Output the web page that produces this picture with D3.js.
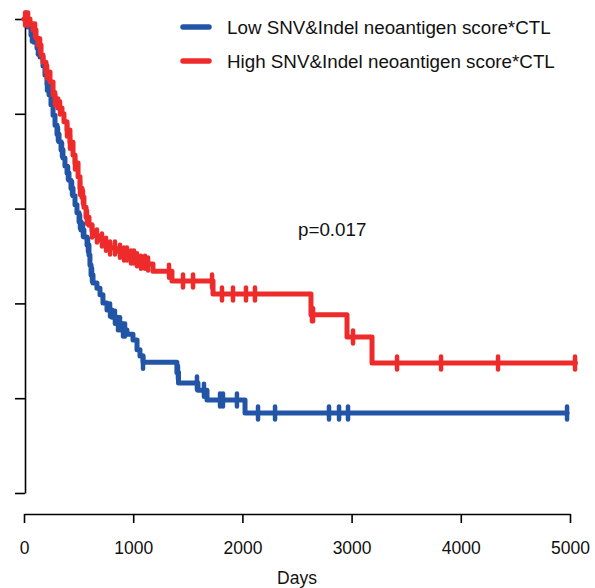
<!DOCTYPE html>
<html><head><meta charset="utf-8">
<script src="https://cdn.jsdelivr.net/npm/d3@7"></script>
<style>body{margin:0;background:#fff}</style>
</head><body><svg id="c" width="595" height="588"></svg>
<script>
const groups = ["Low SNV&Indel neoantigen score*CTL","High SNV&Indel neoantigen score*CTL"];
const colors = ["#2355a6","#ee2b2b"];
const xTicks = [0,1000,2000,3000,4000,5000];
const yTicks = [0,0.2,0.4,0.6,0.8,1.0];
const pText = "p=0.017";

// step points (time, survival after step)
const lowTimes = [0,37,64,92,119,147,174,192,211,229,247,266,284,302,321,339,357,375,394,412,430,449,467,485,504,522,549,577,595,604,614,632,668,696,723,760,806,852,897,943,998,1035,1062,1090,1400,1415,1593,1676,2024,4973];
const lowSurv  = [1,0.983,0.966,0.951,0.939,0.92,0.901,0.882,0.863,0.84,0.819,0.797,0.776,0.757,0.741,0.724,0.707,0.69,0.675,0.66,0.643,0.627,0.608,0.591,0.572,0.555,0.54,0.523,0.502,0.481,0.46,0.443,0.432,0.418,0.401,0.386,0.371,0.357,0.344,0.335,0.323,0.302,0.289,0.276,0.254,0.232,0.217,0.196,0.169,0.169];
const lowCensor = [20,73,128,211,220,311,348,403,440,513,540,586,623,788,833,861,879,907,925,1090,1410,1584,1648,1795,1822,1950,2143,2299,2793,2885,2967,4973];

const highTimes = [0,55,82,110,128,156,174,201,238,266,284,311,348,366,394,421,449,467,495,513,531,549,568,595,623,659,696,742,788,842,897,952,1016,1071,1126,1181,1355,1731,2628,2958,3187,5050];
const highSurv  = [1,0.99,0.977,0.96,0.945,0.924,0.909,0.888,0.867,0.84,0.832,0.812,0.8,0.783,0.766,0.74,0.713,0.696,0.667,0.643,0.624,0.603,0.582,0.565,0.553,0.542,0.534,0.525,0.517,0.51,0.504,0.498,0.492,0.487,0.483,0.468,0.447,0.42,0.376,0.329,0.274,0.274];
const highCensor = [10,37,101,147,211,284,330,394,421,467,513,540,577,623,668,714,751,788,833,879,916,943,980,1007,1035,1071,1108,1136,1328,1456,1548,1722,1813,1914,2033,2115,2637,2647,3013,3416,3819,4341,5046];

const FONT = "Liberation Sans, Arial, sans-serif";
const svg = d3.select("#c");
const x = d3.scaleLinear().domain([0,5000]).range([24,570]);
const y = d3.scaleLinear().domain([0,1]).range([493,19]);

// y axis
const ya = svg.append("g").attr("transform","translate(25,0)")
  .call(d3.axisLeft(y).tickValues(yTicks).tickFormat("").tickSize(10).tickSizeOuter(0));
ya.select(".domain").attr("stroke","#000").attr("stroke-width",1.6);
ya.selectAll(".tick line").attr("stroke","#000").attr("stroke-width",1.6);

// x axis
const xa = svg.append("g").attr("transform","translate(0,514)")
  .call(d3.axisBottom(x).tickValues(xTicks).tickFormat(d3.format("d")).tickSize(9).tickSizeOuter(0));
xa.select(".domain").attr("stroke","#000").attr("stroke-width",1.6);
xa.selectAll(".tick line").attr("stroke","#000").attr("stroke-width",1.6);
xa.selectAll(".tick text").attr("font-family",FONT)
  .attr("font-size",17.5).attr("fill","#111").attr("y",0).attr("dy",0)
  .attr("transform","translate(0,40)");

svg.append("text").attr("x",x(2500)).attr("y",584).attr("text-anchor","middle")
  .attr("font-family",FONT).attr("font-size",17.5).attr("fill","#111").text("Days");

const series = [
  {times: lowTimes, surv: lowSurv, censor: lowCensor, color: colors[0]},
  {times: highTimes, surv: highSurv, censor: highCensor, color: colors[1]}
];
const line = d3.line().x(d=>x(d[0])).y(d=>y(d[1])).curve(d3.curveStepAfter);
function survAt(s, t){
  let v = 1;
  for(let i=0;i<s.times.length;i++){ if(s.times[i]<=t) v = s.surv[i]; }
  return v;
}
series.forEach(s=>{
  const pts = s.times.map((t,i)=>[t,s.surv[i]]);
  svg.append("path").attr("d",line(pts)).attr("fill","none")
    .attr("stroke",s.color).attr("stroke-width",5).attr("stroke-linejoin","round").attr("stroke-linecap","round");
  svg.append("g").selectAll("line").data(s.censor).join("line")
    .attr("x1",d=>x(d)).attr("x2",d=>x(d))
    .attr("y1",d=>y(survAt(s,d))-6.5).attr("y2",d=>y(survAt(s,d))+6.5)
    .attr("stroke",s.color).attr("stroke-width",4.5).attr("stroke-linecap","round");
});

// legend
groups.forEach((g,i)=>{
  const yy = 27 + i*34;
  svg.append("line").attr("x1",183).attr("x2",209).attr("y1",yy).attr("y2",yy)
    .attr("stroke",colors[i]).attr("stroke-width",5.5).attr("stroke-linecap","round");
  svg.append("text").attr("x",227).attr("y",yy+6.5)
    .attr("font-family",FONT).attr("font-size",18.8).attr("fill","#111").text(g);
});
svg.append("text").attr("x",298).attr("y",236)
  .attr("font-family",FONT).attr("font-size",18.8).attr("fill","#111").text(pText);
</script></body></html>
